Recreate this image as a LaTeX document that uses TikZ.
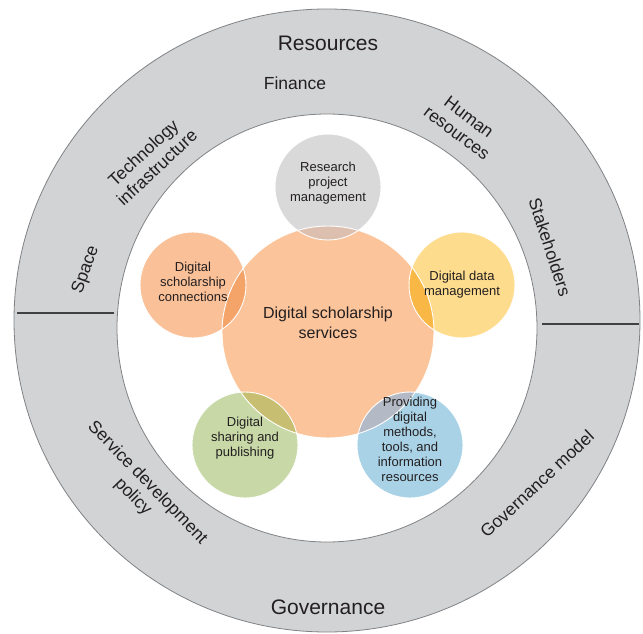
\documentclass[tikz,border=0pt]{standalone}
\usepackage{fontspec}
\setmainfont{Liberation Sans}
\begin{document}
\begin{tikzpicture}[x=1pt,y=-1pt,
  txt/.style={text=textc,align=center,inner sep=0pt},
  ringlbl/.style={txt,font=\fontsize{17.5}{20}\selectfont},
  biglbl/.style={txt,font=\fontsize{21}{24}\selectfont},
  smalllbl/.style={txt,font=\fontsize{13}{15}\selectfont},
  outline/.style={draw=white,line width=0.9pt},
  divider/.style={draw=divc,line width=1.4pt}]
\definecolor{textc}{HTML}{231F20}
\definecolor{ringc}{HTML}{D1D3D4}
\definecolor{ringline}{HTML}{808285}
\definecolor{divc}{HTML}{414042}
\definecolor{centc}{HTML}{FBC49A}
\definecolor{resc}{HTML}{D9D9D9}
\definecolor{resov}{HTML}{DCBFAF}
\definecolor{conc}{HTML}{FAC097}
\definecolor{conov}{HTML}{F4A468}
\definecolor{datc}{HTML}{FEDC8E}
\definecolor{datov}{HTML}{F9B746}
\definecolor{shac}{HTML}{C8D9A7}
\definecolor{shaov}{HTML}{C8BE72}
\definecolor{proc}{HTML}{A9D2E6}
\definecolor{proov}{HTML}{B3BAC5}
\useasboundingbox (0,0) rectangle (643,634);
% rings
\coordinate (oc) at (327,320.5);
\coordinate (ic) at (327,328);
\fill[ringc,draw=ringline,line width=0.8pt] (oc) ellipse [x radius=313,y radius=311.5];
\fill[white,draw=ringline,line width=0.8pt] (ic) ellipse [x radius=210,y radius=214];
\coordinate (l1) at (17,313); \coordinate (l2) at (114,313);
\coordinate (r1) at (542,324); \coordinate (r2) at (639,324);
\draw[divider] (l1) -- (l2);
\draw[divider] (r1) -- (r2);
% circle centres
\coordinate (cc) at (328,332);
\coordinate (rc) at (328,187);
\coordinate (sc) at (193,285);
\coordinate (dc) at (462,285);
\coordinate (hc) at (245,445);
\coordinate (pc) at (410,445);
% fills
\fill[resc] (rc) circle (53);
\fill[conc] (sc) circle (53);
\fill[datc] (dc) circle (53);
\fill[shac] (hc) circle (53);
\fill[proc] (pc) circle (53);
\fill[centc] (cc) circle (106);
\begin{scope}
  \clip (cc) circle (106);
  \fill[resov] (rc) circle (53);
  \fill[conov] (sc) circle (53);
  \fill[datov] (dc) circle (53);
  \fill[shaov] (hc) circle (53);
  \fill[proov] (pc) circle (53);
\end{scope}
\draw[outline] (rc) circle (53);
\draw[outline] (sc) circle (53);
\draw[outline] (dc) circle (53);
\draw[outline] (hc) circle (53);
\draw[outline] (pc) circle (53);
\draw[outline] (cc) circle (106);
% texts
\node[txt,font=\fontsize{16}{20}\selectfont] (center) at (328,323) {Digital scholarship\\services};
\node[smalllbl] (res) at (328,183) {Research\\project\\management};
\node[smalllbl] (con) at (193,282) {Digital\\scholarship\\connections};
\node[smalllbl] (dat) at (462,285) {Digital data\\management};
\node[smalllbl] (sha) at (245,438) {Digital\\sharing and\\publishing};
\node[smalllbl] (pro) at (410,439) {Providing\\digital\\methods,\\tools, and\\information\\resources};
% ring labels
\node[biglbl] (resources) at (328,43) {Resources};
\node[biglbl] (governance) at (328,607) {Governance};
\node[ringlbl] (finance) at (295,83) {Finance};
\node[ringlbl,rotate=-37] (human) at (463,125) {Human\\resources};
\node[ringlbl,rotate=-72] (stake) at (550,247) {Stakeholders};
\node[ringlbl,rotate=43] (tech) at (150,160) {Technology\\infrastructure};
\node[ringlbl,rotate=70] (space) at (86,270) {Space};
\node[ringlbl,rotate=-46] (service) at (140,490) {Service development\\policy};
\node[ringlbl,rotate=43] (govmodel) at (537,484) {Governance model};
\end{tikzpicture}
\end{document}
